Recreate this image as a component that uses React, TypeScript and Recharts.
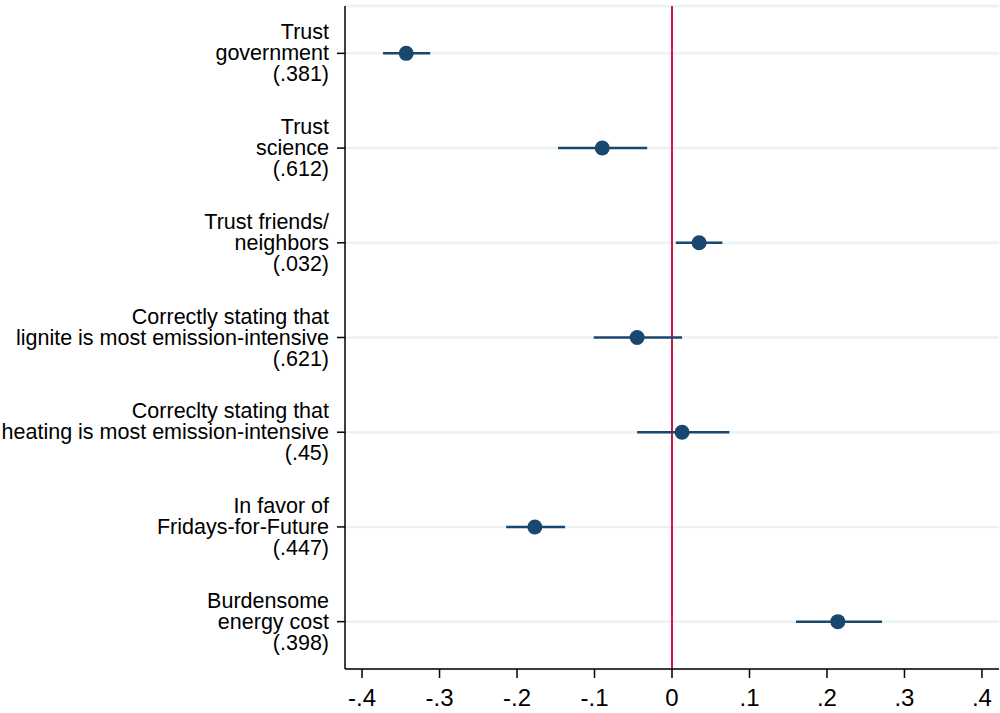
import React from "react";
import {
  ScatterChart,
  Scatter,
  XAxis,
  YAxis,
  CartesianGrid,
  ReferenceLine,
  ErrorBar,
} from "recharts";

const labels: string[][] = [
  ["Trust", "government", "(.381)"],
  ["Trust", "science", "(.612)"],
  ["Trust friends/", "neighbors", "(.032)"],
  ["Correctly stating that", "lignite is most emission-intensive", "(.621)"],
  ["Correclty stating that", "heating is most emission-intensive", "(.45)"],
  ["In favor of", "Fridays-for-Future", "(.447)"],
  ["Burdensome", "energy cost", "(.398)"],
];
const estimates = [-0.343, -0.09, 0.035, -0.045, 0.013, -0.177, 0.214];
const ciLow = [-0.373, -0.147, 0.005, -0.101, -0.045, -0.214, 0.16];
const ciHigh = [-0.312, -0.032, 0.065, 0.013, 0.074, -0.138, 0.271];
const xTicks = [-0.4, -0.3, -0.2, -0.1, 0, 0.1, 0.2, 0.3, 0.4];
const rows = [1, 2, 3, 4, 5, 6, 7];

const data = rows.map((row, i) => ({
  row,
  est: estimates[i],
  err: [estimates[i] - ciLow[i], ciHigh[i] - estimates[i]],
}));

const NAVY = "#1a476f";
const FONT = "'Liberation Sans', Arial, sans-serif";

const fmtX = (v: number) => {
  if (Math.abs(v) < 1e-9) return "0";
  return (v < 0 ? "-" : "") + "." + Math.round(Math.abs(v) * 10);
};

function YTick(props: any) {
  const { x, y, payload } = props;
  const lines = labels[payload.value - 1] || [];
  return (
    <text x={x - 6} y={y} textAnchor="end" fontFamily={FONT} fontSize={21.5} fill="#000">
      {lines.map((l, i) => (
        <tspan key={i} x={x - 6} y={y + 7 + (i - 1) * 21}>
          {l}
        </tspan>
      ))}
    </text>
  );
}

function Dot(props: any) {
  return <circle cx={props.cx} cy={props.cy} r={7.5} fill={NAVY} />;
}

export default function App() {
  return (
    <div style={{ position: "absolute", top: 0, left: 0, background: "#fff" }}>
      <ScatterChart
        width={1000}
        height={713}
        margin={{ top: 6, right: 1, bottom: 0, left: 0 }}
      >
        <CartesianGrid vertical={false} stroke="#eaf2f3" strokeWidth={2.5} />
        <XAxis
          type="number"
          dataKey="est"
          domain={[-0.422, 0.422]}
          ticks={xTicks}
          tickFormatter={fmtX}
          height={44}
          axisLine={{ stroke: "#000", strokeWidth: 1.5 }}
          tickLine={{ stroke: "#000", strokeWidth: 1.5 }}
          tickSize={9}
          tick={{ fill: "#000", fontSize: 24, fontFamily: FONT, dy: 9 }}
          allowDataOverflow
        />
        <YAxis
          type="number"
          dataKey="row"
          domain={[0.5, 7.5]}
          ticks={rows}
          reversed
          width={345}
          axisLine={{ stroke: "#000", strokeWidth: 1.5 }}
          tickLine={{ stroke: "#000", strokeWidth: 1.5 }}
          tickSize={8}
          tick={<YTick />}
          interval={0}
        />
        <ReferenceLine x={0} stroke="#d8103e" strokeWidth={2} />
        <Scatter data={data} shape={<Dot />} isAnimationActive={false}>
          <ErrorBar
            dataKey="err"
            direction="x"
            width={0}
            stroke={NAVY}
            strokeWidth={2.5}
            isAnimationActive={false}
          />
        </Scatter>
      </ScatterChart>
    </div>
  );
}
